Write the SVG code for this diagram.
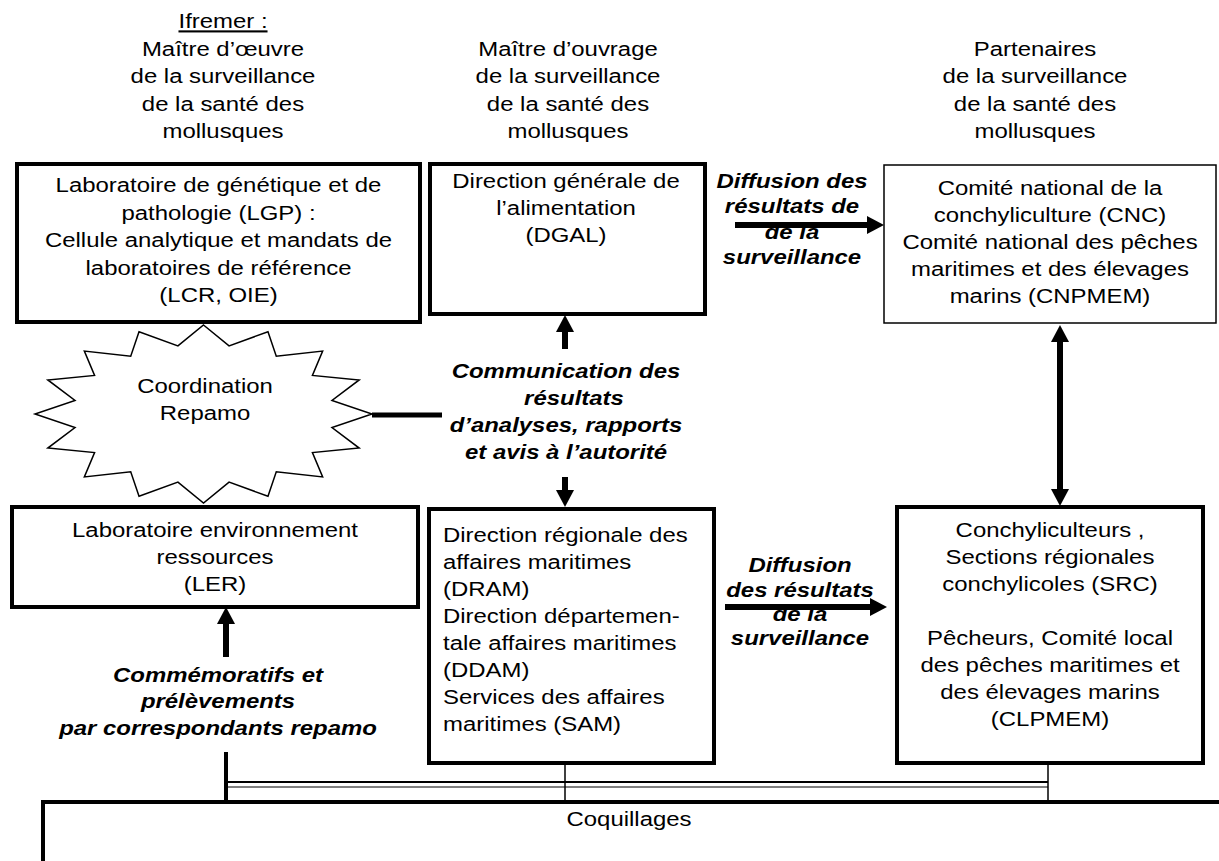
<svg xmlns="http://www.w3.org/2000/svg" width="1219" height="861" viewBox="0 0 1219 861">
<style>
.t{font-family:"Liberation Sans",Arial,sans-serif;font-size:21px;fill:#000}
.c{text-anchor:middle}
.b{font-weight:bold;font-style:italic}
.box{fill:#fff;stroke:#000;stroke-width:4}
.thinbox{fill:#fff;stroke:#000;stroke-width:1.5}
.shaft{stroke:#000;stroke-width:6;fill:none}
.bar{stroke:#000;fill:none}
</style>
<defs>
<marker id="ah" viewBox="0 0 17 18" markerWidth="17" markerHeight="18" refX="5" refY="9" orient="auto-start-reverse" markerUnits="userSpaceOnUse">
<path d="M0,0 L17,9 L0,18 Z" fill="#000"/>
</marker>
</defs>
<rect x="0" y="0" width="1219" height="861" fill="#fff"/>

<g id="header-ifremer">
<text class="t c" transform="translate(223,0) scale(1.14,1)"><tspan x="0" y="28.5" text-decoration="underline">Ifremer :</tspan><tspan x="0" y="56">Maître d’œuvre</tspan><tspan x="0" y="83.5">de la surveillance</tspan><tspan x="0" y="111">de la santé des</tspan><tspan x="0" y="138.5">mollusques</tspan></text>
</g>
<g id="header-ouvrage">
<text class="t c" transform="translate(568,0) scale(1.14,1)"><tspan x="0" y="56">Maître d’ouvrage</tspan><tspan x="0" y="83.5">de la surveillance</tspan><tspan x="0" y="111">de la santé des</tspan><tspan x="0" y="138.5">mollusques</tspan></text>
</g>
<g id="header-partenaires">
<text class="t c" transform="translate(1035,0) scale(1.14,1)"><tspan x="0" y="56">Partenaires</tspan><tspan x="0" y="83.5">de la surveillance</tspan><tspan x="0" y="111">de la santé des</tspan><tspan x="0" y="138.5">mollusques</tspan></text>
</g>

<g id="connectors">
<line class="shaft" x1="735" y1="225" x2="872" y2="225" marker-end="url(#ah)"/>
<line class="shaft" x1="1060" y1="337" x2="1060" y2="494" marker-start="url(#ah)" marker-end="url(#ah)"/>
<line class="shaft" x1="565" y1="349" x2="565" y2="327" marker-end="url(#ah)"/>
<line class="shaft" x1="565" y1="477" x2="565" y2="495" marker-end="url(#ah)"/>
<line class="shaft" x1="226" y1="657" x2="226" y2="619" marker-end="url(#ah)"/>
<line class="shaft" x1="725" y1="607" x2="875" y2="607" marker-end="url(#ah)"/>
<line class="bar" stroke-width="5" x1="372" y1="415" x2="442" y2="415"/>
<line class="bar" stroke-width="4" x1="226" y1="752" x2="226" y2="802"/>
<line class="bar" stroke-width="1.5" x1="565" y1="763" x2="565" y2="802"/>
<line class="bar" stroke-width="1.5" x1="1048" y1="763" x2="1048" y2="802"/>
<line class="bar" stroke-width="2" x1="226" y1="782" x2="1048" y2="782"/>
<line class="bar" stroke-width="1" x1="226" y1="787" x2="1048" y2="787"/>
</g>

<g id="node-lgp">
<rect class="box" x="17" y="164" width="403" height="158"/>
<text class="t c" transform="translate(218.5,0) scale(1.14,1)"><tspan x="0" y="192.5">Laboratoire de génétique et de</tspan><tspan x="0" y="220">pathologie (LGP) :</tspan><tspan x="0" y="247.5">Cellule analytique et mandats de</tspan><tspan x="0" y="275">laboratoires de référence</tspan><tspan x="0" y="302.5">(LCR, OIE)</tspan></text>
</g>

<g id="node-dgal">
<rect class="box" x="430" y="164" width="275" height="150"/>
<text class="t c" transform="translate(566,0) scale(1.14,1)"><tspan x="0" y="188">Direction générale de</tspan><tspan x="0" y="215">l’alimentation</tspan><tspan x="0" y="242">(DGAL)</tspan></text>
</g>

<g id="node-cnc">
<rect class="thinbox" x="884" y="165" width="332" height="158"/>
<text class="t c" transform="translate(1050,0) scale(1.14,1)"><tspan x="0" y="195">Comité national de la</tspan><tspan x="0" y="222">conchyliculture (CNC)</tspan><tspan x="0" y="249">Comité national des pêches</tspan><tspan x="0" y="276">maritimes et des élevages</tspan><tspan x="0" y="303">marins (CNPMEM)</tspan></text>
</g>

<g id="label-diffusion-top">
<text class="t c b" transform="translate(792,0) scale(1.14,1)"><tspan x="0" y="188">Diffusion des</tspan><tspan x="0" y="213.5">résultats de</tspan><tspan x="0" y="239">de la</tspan><tspan x="0" y="264.5">surveillance</tspan></text>
</g>

<g id="node-coordination">
<polygon fill="#fff" stroke="#000" stroke-width="1.5" points="203.5,325 229.06,345.84 267.98,331.77 276.28,356.21 322.65,351.07 312.42,375.39 359.17,379.94 331.98,400.44 372,414 331.98,427.56 359.17,448.06 312.42,452.61 322.65,476.93 276.28,471.79 267.98,496.23 229.06,482.16 203.5,503 177.94,482.16 139.02,496.23 130.72,471.79 84.35,476.93 94.58,452.61 47.83,448.06 75.02,427.56 35,414 75.02,400.44 47.83,379.94 94.58,375.39 84.35,351.07 130.72,356.21 139.02,331.77 177.94,345.84"/>
<text class="t c" transform="translate(205,0) scale(1.14,1)"><tspan x="0" y="393">Coordination</tspan><tspan x="0" y="420">Repamo</tspan></text>
</g>

<g id="label-communication">
<text class="t c b" transform="translate(566,0) scale(1.14,1)"><tspan x="0" y="378">Communication des</tspan><tspan x="7" y="405">résultats</tspan><tspan x="0" y="432">d’analyses, rapports</tspan><tspan x="0" y="459">et avis à l’autorité</tspan></text>
</g>

<g id="node-ler">
<rect class="box" x="12" y="507" width="406" height="100"/>
<text class="t c" transform="translate(215,0) scale(1.14,1)"><tspan x="0" y="537">Laboratoire environnement</tspan><tspan x="0" y="564">ressources</tspan><tspan x="0" y="591">(LER)</tspan></text>
</g>

<g id="node-dram">
<rect class="box" x="429" y="509" width="285" height="254"/>
<text class="t" transform="translate(443,0) scale(1.14,1)"><tspan x="0" y="542">Direction régionale des</tspan><tspan x="0" y="569">affaires maritimes</tspan><tspan x="0" y="596">(DRAM)</tspan><tspan x="0" y="623">Direction départemen-</tspan><tspan x="0" y="650">tale affaires maritimes</tspan><tspan x="0" y="677">(DDAM)</tspan><tspan x="0" y="704">Services des affaires</tspan><tspan x="0" y="731">maritimes (SAM)</tspan></text>
</g>

<g id="label-diffusion-bottom">
<text class="t c b" transform="translate(800,0) scale(1.14,1)"><tspan x="0" y="572">Diffusion</tspan><tspan x="0" y="597">des résultats</tspan><tspan x="0" y="621">de la</tspan><tspan x="0" y="645">surveillance</tspan></text>
</g>

<g id="node-conchyliculteurs">
<rect class="box" x="897" y="507" width="306" height="256"/>
<text class="t c" transform="translate(1050,0) scale(1.14,1)"><tspan x="0" y="537">Conchyliculteurs ,</tspan><tspan x="0" y="564">Sections régionales</tspan><tspan x="0" y="591">conchylicoles (SRC)</tspan><tspan x="0" y="645">Pêcheurs, Comité local</tspan><tspan x="0" y="672">des pêches maritimes et</tspan><tspan x="0" y="699">des élevages marins</tspan><tspan x="0" y="726">(CLPMEM)</tspan></text>
</g>

<g id="label-commemoratifs">
<text class="t c b" transform="translate(218,0) scale(1.14,1)"><tspan x="0" y="682">Commémoratifs et</tspan><tspan x="0" y="708">prélèvements</tspan><tspan x="0" y="735">par correspondants repamo</tspan></text>
</g>

<g id="node-coquillages">
<rect class="box" stroke-width="5" x="43" y="802" width="1200" height="100"/>
<text class="t c" transform="translate(629,0) scale(1.14,1)"><tspan x="0" y="826">Coquillages</tspan></text>
</g>
</svg>
